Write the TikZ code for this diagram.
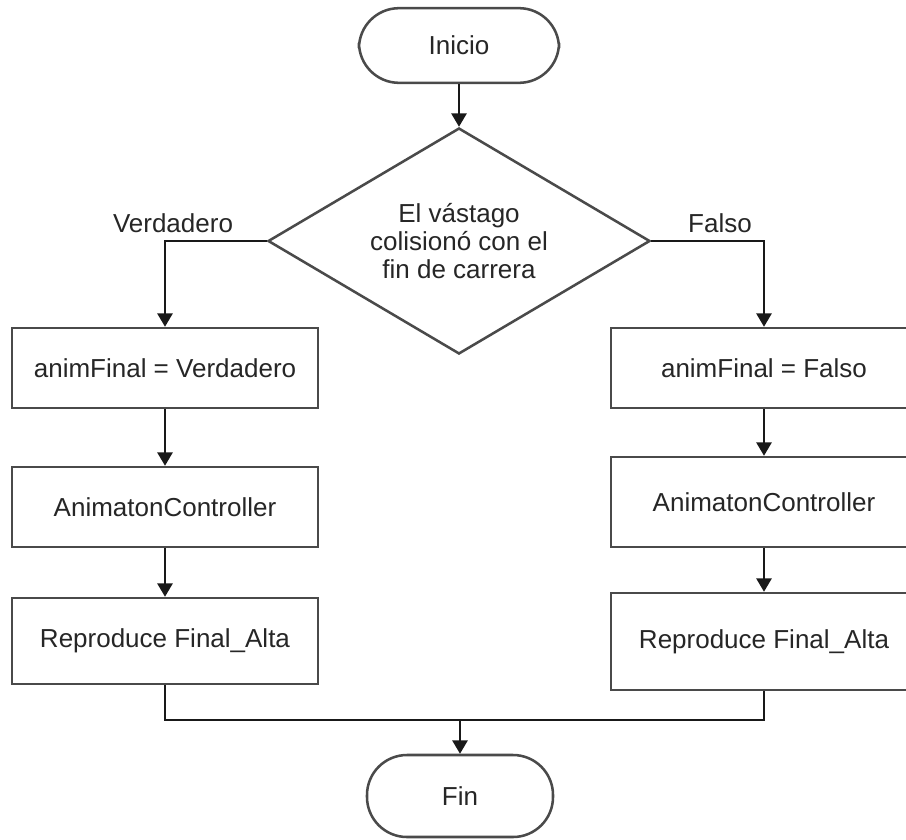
\documentclass[tikz,border=0pt]{standalone}
\usepackage{fontspec}
\setmainfont{Liberation Sans}
\usetikzlibrary{shapes.geometric,arrows.meta}
\definecolor{edgegray}{HTML}{4A4A4A}
\definecolor{inkgray}{HTML}{262626}
\tikzset{
  base/.style={draw=edgegray, line width=1.9pt, fill=white, text=inkgray,
    font=\fontsize{19.5}{20.8}\selectfont, align=center, inner sep=0pt},
  terminal/.style={base, rectangle, rounded corners=30pt},
  process/.style={base, rectangle, minimum width=229.5pt},
  decision/.style={base, diamond, aspect=1.69, minimum width=286.5pt, minimum height=169.5pt},
  lbl/.style={text=inkgray, font=\fontsize{19.5}{20.8}\selectfont, inner sep=0pt},
  flow/.style={draw=black!90, line width=1.1pt},
  arrow/.style={flow, -{Triangle[length=10pt,width=11.5pt]}}
}
\begin{document}
\begin{tikzpicture}[x=0.75pt,y=-0.75pt]
  \useasboundingbox (0,0) rectangle (906,839);
  \clip (0,0) rectangle (906,839);

  % start / end
  \node[terminal, minimum width=150pt, minimum height=56pt] (inicio) at (459,45.5) {Inicio};
  \node[terminal, minimum width=139.5pt, minimum height=61.5pt] (fin) at (460,796) {Fin};

  % decision
  \node[decision] (dec) at (459,241) {El vástago\\colisionó con el\\fin de carrera};

  % true branch
  \node[process, minimum height=60pt]   (l1) at (165,368) {animFinal = Verdadero};
  \node[process, minimum height=60pt]   (l2) at (165,507) {AnimatonController};
  \node[process, minimum height=64.5pt] (l3) at (165,641) {Reproduce Final\_Alta};

  % false branch
  \node[process, minimum height=60pt]   (r1) at (764,368) {animFinal = Falso};
  \node[process, minimum height=67.5pt] (r2) at (764,502) {AnimatonController};
  \node[process, minimum height=72.75pt] (r3) at (764,641.5) {Reproduce Final\_Alta};

  % branch labels
  \node[lbl] (vlab) at (173,223) {Verdadero};
  \node[lbl] (flab) at (720,223) {Falso};

  \coordinate (join) at (460,720);

  % connectors
  \draw[arrow] (inicio) -- (dec);
  \draw[arrow] (dec.west) -| (l1.north);
  \draw[arrow] (dec.east) -| (r1.north);
  \draw[arrow] (l1) -- (l2);
  \draw[arrow] (l2) -- (l3);
  \draw[arrow] (r1) -- (r2);
  \draw[arrow] (r2) -- (r3);
  \draw[flow] (l3.south) |- (join);
  \draw[flow] (r3.south) |- (join);
  \draw[arrow] (join) -- (fin.north);
\end{tikzpicture}
\end{document}
